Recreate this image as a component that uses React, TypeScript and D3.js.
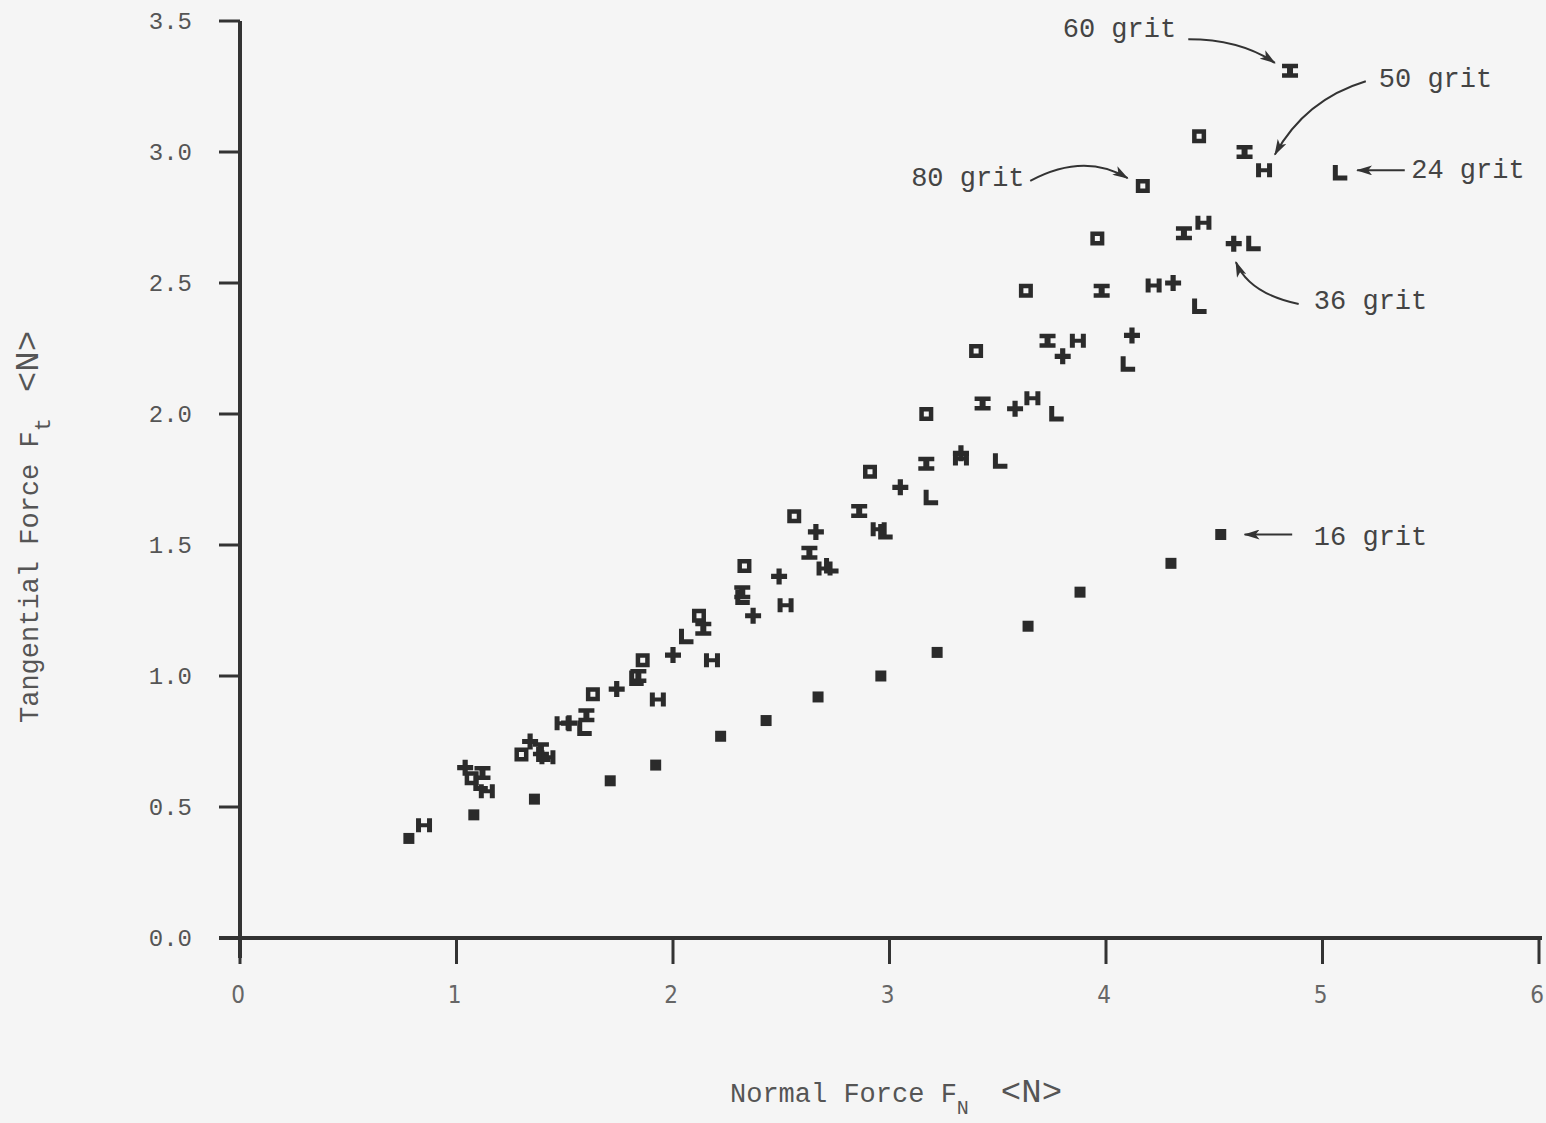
import React from "react";
import * as d3 from "d3";

// ---------- axis ticks ----------
const xTicks = [0, 1, 2, 3, 4, 5, 6];
const xTickLabels = ["0", "1", "2", "3", "4", "5", "6"];
const yTicks = [0, 0.5, 1, 1.5, 2, 2.5, 3, 3.5];
const yTickLabels = ["0.0", "0.5", "1.0", "1.5", "2.0", "2.5", "3.0", "3.5"];

// ---------- series (Normal force FN, Tangential force Ft) ----------
const grit80X = [1.07, 1.30, 1.63, 1.86, 2.12, 2.33, 2.56, 2.91, 3.17, 3.40, 3.63, 3.96, 4.17, 4.43];
const grit80Y = [0.61, 0.70, 0.93, 1.06, 1.23, 1.42, 1.61, 1.78, 2.00, 2.24, 2.47, 2.67, 2.87, 3.06];

const grit60X = [1.12, 1.39, 1.60, 1.84, 2.14, 2.32, 2.63, 2.86, 3.17, 3.43, 3.73, 3.98, 4.36, 4.64, 4.85];
const grit60Y = [0.63, 0.72, 0.85, 1.00, 1.18, 1.32, 1.47, 1.63, 1.81, 2.04, 2.28, 2.47, 2.69, 3.00, 3.31];

const grit50X = [0.85, 1.14, 1.42, 1.49, 1.93, 2.18, 2.52, 2.70, 2.95, 3.33, 3.66, 3.87, 4.22, 4.45, 4.73];
const grit50Y = [0.43, 0.56, 0.69, 0.82, 0.91, 1.06, 1.27, 1.41, 1.56, 1.83, 2.06, 2.28, 2.49, 2.73, 2.93];

const grit36X = [1.04, 1.34, 1.52, 1.74, 2.00, 2.37, 2.49, 2.66, 3.05, 3.33, 3.58, 3.80, 4.12, 4.31, 4.59];
const grit36Y = [0.65, 0.75, 0.82, 0.95, 1.08, 1.23, 1.38, 1.55, 1.72, 1.85, 2.02, 2.22, 2.30, 2.50, 2.65];

const grit24X = [1.11, 1.40, 1.59, 1.83, 2.06, 2.32, 2.73, 2.98, 3.19, 3.51, 3.77, 4.10, 4.43, 4.68, 5.08];
const grit24Y = [0.59, 0.70, 0.80, 0.99, 1.15, 1.30, 1.42, 1.55, 1.68, 1.82, 2.00, 2.19, 2.41, 2.65, 2.92];

const grit16X = [0.78, 1.08, 1.36, 1.71, 1.92, 2.22, 2.43, 2.67, 2.96, 3.22, 3.64, 3.88, 4.30, 4.53];
const grit16Y = [0.38, 0.47, 0.53, 0.60, 0.66, 0.77, 0.83, 0.92, 1.00, 1.09, 1.19, 1.32, 1.43, 1.54];

// ---------- annotations (data coordinates) ----------
const annLabels = ["60 grit", "50 grit", "24 grit", "80 grit", "36 grit", "16 grit"];
const annTextX = [3.80, 5.26, 5.41, 3.10, 4.96, 4.96];
const annTextY = [3.44, 3.25, 2.90, 2.87, 2.40, 1.50];
const annStartX = [4.38, 5.20, 5.38, 3.65, 4.89, 4.86];
const annStartY = [3.43, 3.27, 2.93, 2.89, 2.42, 1.54];
const annCtrlX = [4.62, 4.92, 5.27, 3.90, 4.66, 4.75];
const annCtrlY = [3.43, 3.20, 2.93, 3.00, 2.46, 1.54];
const annEndX = [4.78, 4.78, 5.16, 4.10, 4.60, 4.64];
const annEndY = [3.34, 2.99, 2.93, 2.90, 2.58, 1.54];

const W = 1546;
const H = 1123;

const x = d3.scaleLinear().domain([0, 6]).range([240, 1539]);
const y = d3.scaleLinear().domain([0, 3.5]).range([938, 21]);

const GLYPHS: Record<string, string> = {
  hollow: "M-7,-7h14v14h-14z M-2.5,-2.5v5h5v-5z",
  ibar: "M-8,-7h16v4.5h-5v5h5v4.5h-16v-4.5h5v-5h-5z",
  hbar: "M-8,-7h5v5h6v-5h5v14h-5v-5h-6v5h-5z",
  plus: "M-2.6,-8h5.2v5.4h5.4v5.2h-5.4v5.4h-5.2v-5.4h-5.4v-5.2h5.4z",
  ell: "M-7,-8h5v10.5h9.5v5h-14.5z",
  solid: "M-5.5,-5.5h11v11h-11z",
};

const series = [
  { name: "80 grit", shape: "hollow", xs: grit80X, ys: grit80Y },
  { name: "60 grit", shape: "ibar", xs: grit60X, ys: grit60Y },
  { name: "50 grit", shape: "hbar", xs: grit50X, ys: grit50Y },
  { name: "36 grit", shape: "plus", xs: grit36X, ys: grit36Y },
  { name: "24 grit", shape: "ell", xs: grit24X, ys: grit24Y },
  { name: "16 grit", shape: "solid", xs: grit16X, ys: grit16Y },
];

const INK = "#2b2b2b";
const TXT = "#555";

export default function App() {
  const arrows = annLabels.map((lab, i) => {
    const p = d3.path();
    p.moveTo(x(annStartX[i]), y(annStartY[i]));
    p.quadraticCurveTo(x(annCtrlX[i]), y(annCtrlY[i]), x(annEndX[i]), y(annEndY[i]));
    return { lab, d: p.toString(), tx: x(annTextX[i]), ty: y(annTextY[i]) };
  });

  return (
    <svg
      width={W}
      height={H}
      viewBox={`0 0 ${W} ${H}`}
      style={{ position: "absolute", left: 0, top: 0, display: "block" }}
    >
      <defs>
        <marker
          id="ah"
          viewBox="0 0 16 10"
          refX={15}
          refY={5}
          markerWidth={16}
          markerHeight={10}
          markerUnits="userSpaceOnUse"
          orient="auto"
        >
          <path d="M0,0 L16,5 L0,10 L4,5 z" fill="#333" />
        </marker>
      </defs>
      <rect x={0} y={0} width={W} height={H} fill="#f5f5f5" />

      {/* Y axis */}
      <line x1={x(0)} x2={x(0)} y1={y(3.5)} y2={y(0) + 20} stroke="#333" strokeWidth={4} />
      {yTicks.map((t, i) => (
        <g key={"yt" + i}>
          <line x1={x(0) - 21} x2={x(0)} y1={y(t)} y2={y(t)} stroke="#333" strokeWidth={3} />
          <text
            x={192}
            y={y(t) + 8}
            textAnchor="end"
            fontFamily="Liberation Mono, monospace"
            fontSize={24}
            fill={TXT}
          >
            {yTickLabels[i]}
          </text>
        </g>
      ))}

      {/* X axis */}
      <line x1={x(0) - 21} x2={x(6) + 3} y1={y(0)} y2={y(0)} stroke="#333" strokeWidth={4} />
      {xTicks.map((t, i) => (
        <g key={"xt" + i}>
          <line x1={x(t)} x2={x(t)} y1={y(0)} y2={y(0) + 26} stroke="#333" strokeWidth={3} />
          <text
            x={x(t) - 2}
            y={1003}
            textAnchor="middle"
            fontFamily="DejaVu Sans Condensed, DejaVu Sans, sans-serif"
            fontStretch="condensed"
            fontSize={24}
            fill="#666"
          >
            {xTickLabels[i]}
          </text>
        </g>
      ))}

      {/* Axis titles */}
      <text
        x={730}
        y={1102}
        fontFamily="Liberation Mono, monospace"
        fontSize={27}
        fill={TXT}
      >
        Normal Force F
        <tspan fontSize={20} dy={12} dx={0}>N</tspan>
        <tspan fontSize={34} dy={-12} dx={32}>&lt;N&gt;</tspan>
      </text>
      <text
        transform={`translate(38,723) rotate(-90)`}
        fontFamily="Liberation Mono, monospace"
        fontSize={27}
        fill={TXT}
      >
        Tangential Force F
        <tspan fontSize={22} dy={12} dx={0}>t</tspan>
        <tspan fontSize={34} dy={-12} dx={26}>&lt;N&gt;</tspan>
      </text>

      {/* Data */}
      {series.map((s) => (
        <g key={s.name} fill={INK}>
          {s.xs.map((v, j) => (
            <path
              key={j}
              d={GLYPHS[s.shape]}
              fillRule="evenodd"
              transform={`translate(${x(v)},${y(s.ys[j])})`}
            />
          ))}
        </g>
      ))}

      {/* Annotations */}
      {arrows.map((a) => (
        <g key={a.lab}>
          <path d={a.d} fill="none" stroke="#333" strokeWidth={2} markerEnd="url(#ah)" />
          <text x={a.tx} y={a.ty} fontFamily="Liberation Mono, monospace" fontSize={27} fill="#444">
            {a.lab}
          </text>
        </g>
      ))}
    </svg>
  );
}
